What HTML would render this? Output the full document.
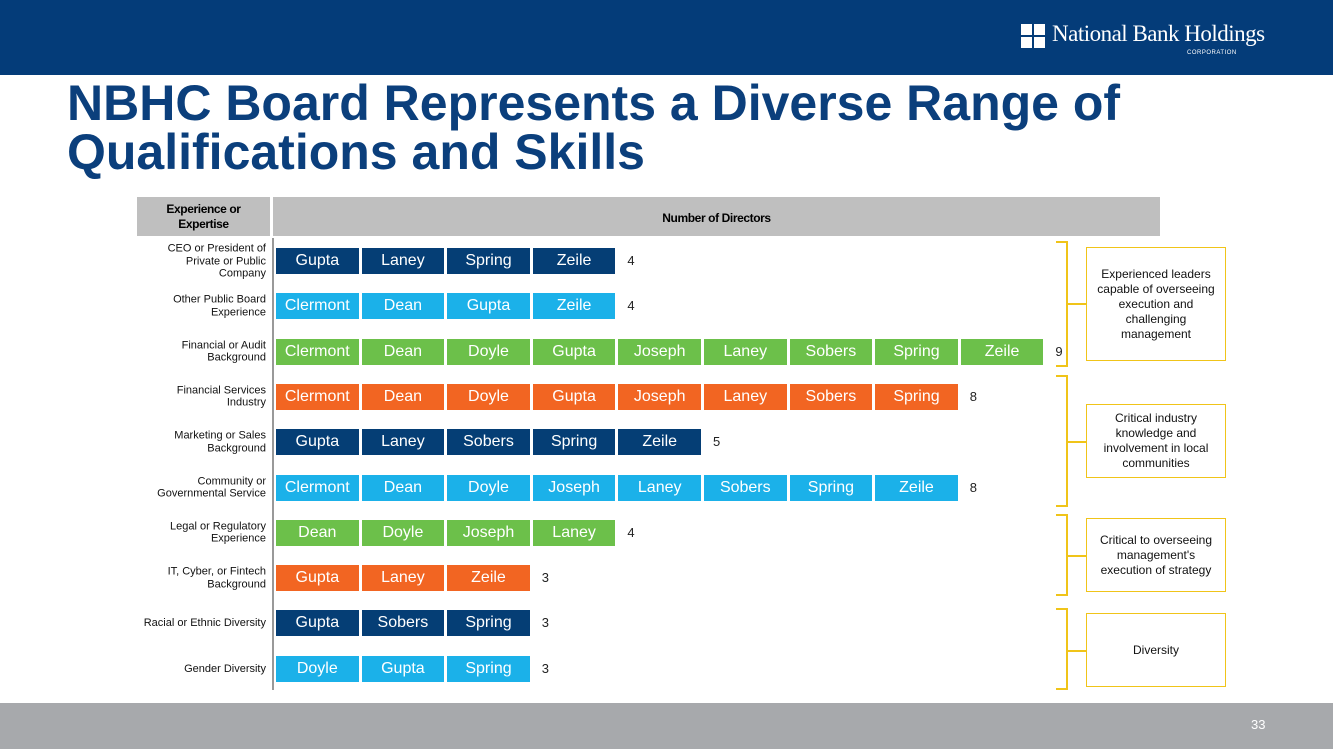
<!DOCTYPE html>
<html><head><meta charset="utf-8"><style>
body{margin:0;width:1333px;height:749px;position:relative;overflow:hidden;background:#fff;font-family:"Liberation Sans",sans-serif}
.abs{position:absolute}
.lbl{position:absolute;left:137px;width:129px;text-align:right;font-size:11px;line-height:12.5px;color:#111;transform:translateY(-50%)}
.seg{position:absolute;height:26px;color:#fff;font-size:16px;line-height:26px;text-align:center}
.cnt{position:absolute;font-size:13px;color:#222;line-height:26px}
.box{position:absolute;left:1086px;width:140px;border:1px solid #f0c419;box-sizing:border-box;display:flex;align-items:center;justify-content:center;text-align:center;font-size:12px;line-height:15px;color:#111;padding:0 6px}
.br{position:absolute;left:1056px;width:12px;border:2px solid #f0c419;border-left:none;box-sizing:border-box}
</style></head><body>
<div class="abs" style="left:0;top:0;width:1333px;height:75px;background:#043c79"></div>
<div class="abs" style="left:1021px;top:22px;height:40px;color:#fff">
<svg width="24" height="24" style="position:absolute;left:0;top:2px"><rect x="0" y="0" width="11" height="11" fill="#fff"/><rect x="13" y="0" width="11" height="11" fill="#fff"/><rect x="0" y="13" width="11" height="11" fill="#fff"/><rect x="13" y="13" width="11" height="11" fill="#fff"/></svg>
<div style="position:absolute;left:31px;top:-1px;font-family:'Liberation Serif',serif;font-size:23px;white-space:nowrap;letter-spacing:-0.5px">National Bank Holdings</div>
<div style="position:absolute;left:166px;top:28px;font-size:6px;white-space:nowrap;letter-spacing:0.5px">CORPORATION</div>
</div>
<div class="abs" style="left:67px;top:79px;font-size:50px;font-weight:bold;line-height:49px;color:#0b3f7c;white-space:nowrap">NBHC Board Represents a Diverse Range of<br>Qualifications and Skills</div>
<div class="abs" style="left:137px;top:197px;width:133px;height:39px;background:#bfbfbf;font-size:12px;font-weight:bold;text-align:center;line-height:15px;padding-top:5px;box-sizing:border-box;letter-spacing:-0.4px">Experience or<br>Expertise</div>
<div class="abs" style="left:273px;top:197px;width:887px;height:39px;background:#bfbfbf;font-size:12px;font-weight:bold;text-align:center;line-height:42px;letter-spacing:-0.4px">Number of Directors</div>
<div class="abs" style="left:272px;top:238px;width:2px;height:452px;background:#999"></div>
<div id="chart"></div>
<div class="br" style="top:241px;height:126px"></div>
<div class="br" style="top:375px;height:132px"></div>
<div class="br" style="top:514px;height:82px"></div>
<div class="br" style="top:608px;height:82px"></div>
<div class="abs" style="left:1068px;top:303px;width:18px;border-top:2px solid #f0c419"></div>
<div class="abs" style="left:1068px;top:441px;width:18px;border-top:2px solid #f0c419"></div>
<div class="abs" style="left:1068px;top:555px;width:18px;border-top:2px solid #f0c419"></div>
<div class="abs" style="left:1068px;top:650px;width:18px;border-top:2px solid #f0c419"></div>
<div class="box" style="top:247px;height:114px">Experienced leaders capable of overseeing execution and challenging management</div>
<div class="box" style="top:404px;height:74px">Critical industry knowledge and involvement in local communities</div>
<div class="box" style="top:518px;height:74px">Critical to overseeing management's execution of strategy</div>
<div class="box" style="top:613px;height:74px">Diversity</div>
<div class="abs" style="left:0;top:703px;width:1333px;height:46px;background:#a7a9ac"></div>
<div class="abs" style="left:1251px;top:717px;font-size:13px;color:#fff">33</div>
<script>
const categories=["CEO or President of<br>Private or Public<br>Company","Other Public Board<br>Experience","Financial or Audit<br>Background","Financial Services<br>Industry","Marketing or Sales<br>Background","Community or<br>Governmental Service","Legal or Regulatory<br>Experience","IT, Cyber, or Fintech<br>Background","Racial or Ethnic Diversity","Gender Diversity"];
const directors=[["Gupta","Laney","Spring","Zeile"],["Clermont","Dean","Gupta","Zeile"],["Clermont","Dean","Doyle","Gupta","Joseph","Laney","Sobers","Spring","Zeile"],["Clermont","Dean","Doyle","Gupta","Joseph","Laney","Sobers","Spring"],["Gupta","Laney","Sobers","Spring","Zeile"],["Clermont","Dean","Doyle","Joseph","Laney","Sobers","Spring","Zeile"],["Dean","Doyle","Joseph","Laney"],["Gupta","Laney","Zeile"],["Gupta","Sobers","Spring"],["Doyle","Gupta","Spring"]];
const counts=[4,4,9,8,5,8,4,3,3,3];
const colors=["#053e75","#1bb1e9","#6cc04a","#f26522","#053e75","#1bb1e9","#6cc04a","#f26522","#053e75","#1bb1e9"];
const x0=275,unit=85.6,y0=261,rowH=45.3;
const xs=v=>x0+v*unit, ys=i=>y0+i*rowH;
const c=document.getElementById('chart');
categories.forEach((cat,i)=>{
 const l=document.createElement('div');l.className='lbl';l.innerHTML=cat;l.style.top=ys(i)+'px';
 
 
 c.appendChild(l);
 directors[i].forEach((d,j)=>{
  const s=document.createElement('div');s.className='seg';s.textContent=d;
  s.style.left=(xs(j)+1)+'px';s.style.width=(unit-3)+'px';s.style.top=(ys(i)-13)+'px';s.style.background=colors[i];
  
  
  c.appendChild(s);
 });
 const n=document.createElement('div');n.className='cnt';n.textContent=counts[i];
 n.style.left=(xs(counts[i])+10)+'px';n.style.top=(ys(i)-13)+'px';
 
 
 c.appendChild(n);
});
</script>
</body></html>
